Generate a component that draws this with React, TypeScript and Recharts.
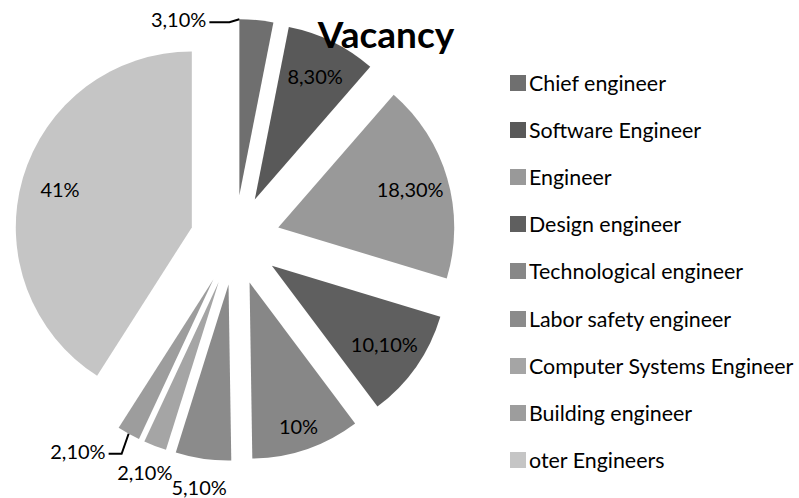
import React from "react";
import { PieChart, Pie, Cell, Sector, Legend } from "recharts";

const categories = [
  "Chief engineer",
  "Software Engineer",
  "Engineer",
  "Design engineer",
  "Technological engineer",
  "Labor safety engineer",
  "Computer Systems Engineer",
  "Building engineer",
  "oter Engineers",
];
const shares = [3.1, 8.3, 18.3, 10.1, 10, 5.1, 2.1, 2.1, 41];
const shareLabels = ["3,10%", "8,30%", "18,30%", "10,10%", "10%", "5,10%", "2,10%", "2,10%", "41%"];
const colors = ["#6f6f6f", "#595959", "#999999", "#5f5f5f", "#878787", "#8b8b8b", "#a5a5a5", "#9d9d9d", "#c5c5c5"];

const data = categories.map((name, i) => ({ name, value: shares[i], label: shareLabels[i] }));

const RAD = Math.PI / 180;
const EXPLODE = 45;
const FONT = "Lato, 'Open Sans', sans-serif";

// slices whose label sits outside with a leader line
const leaders: Record<string, { edge: "start" | "mid"; elbow: [number, number]; run: number }> = {
  "Chief engineer": { edge: "start", elbow: [-10, 3], run: 20 },
  "Building engineer": { edge: "mid", elbow: [-7, 20], run: 13 },
};

function shift(cx: number, cy: number, angle: number, r: number) {
  return { x: cx + r * Math.cos(-angle * RAD), y: cy + r * Math.sin(-angle * RAD) };
}

const ExplodedSector = (props: any) => {
  const c = shift(props.cx, props.cy, props.midAngle, EXPLODE);
  return <Sector {...props} cx={c.x} cy={c.y} />;
};

const renderLabel = (props: any) => {
  const { cx, cy, midAngle, outerRadius, startAngle, value, index } = props;
  const name = categories[index];
  const c = shift(cx, cy, midAngle, EXPLODE);
  const text = shareLabels[index];
  const lead = leaders[name];
  if (lead) {
    const from = shift(c.x, c.y, lead.edge === "start" ? startAngle : midAngle, outerRadius);
    const ex = from.x + lead.elbow[0];
    const ey = from.y + lead.elbow[1];
    const endX = ex - lead.run;
    return (
      <g>
        <polyline points={`${from.x},${from.y} ${ex},${ey} ${endX},${ey}`} fill="none" stroke="#000" strokeWidth={2} />
        <text x={endX - 3} y={ey - 3} textAnchor="end" dominantBaseline="central" fontSize={20} fontFamily={FONT} fill="#000">
          {text}
        </text>
      </g>
    );
  }
  const r = value >= 8 ? outerRadius * (value > 9.5 && value < 10.05 ? 0.86 : 0.78) : outerRadius * 1.16;
  const p = shift(c.x, c.y, midAngle, r);
  return (
    <text x={p.x} y={p.y} textAnchor="middle" dominantBaseline="central" fontSize={20} fontFamily={FONT} fill="#000">
      {text}
    </text>
  );
};

const LegendList = () => (
  <div style={{ fontFamily: FONT, fontSize: 21.4, color: "#000" }}>
    {categories.map((name, i) => (
      <div key={name} style={{ height: 47.2, display: "flex", alignItems: "center", whiteSpace: "nowrap" }}>
        <span style={{ width: 16, height: 16, background: colors[i], marginRight: 3, display: "inline-block", flex: "none" }} />
        <span>{name}</span>
      </div>
    ))}
  </div>
);

export default function App() {
  return (
    <div style={{ position: "absolute", left: 0, top: 0, width: 799, height: 498, background: "#fff" }}>
      <PieChart width={799} height={498} margin={{ top: 0, right: 0, bottom: 0, left: 0 }}>
        <Pie
          data={data}
          dataKey="value"
          nameKey="name"
          cx={235}
          cy={240}
          outerRadius={176}
          startAngle={90}
          endAngle={-270}
          stroke="none"
          shape={ExplodedSector}
          activeShape={ExplodedSector}
          inactiveShape={ExplodedSector}
          label={renderLabel}
          labelLine={false}
          isAnimationActive={false}
        >
          {data.map((d, i) => (
            <Cell key={d.name} fill={colors[i]} />
          ))}
        </Pie>
        <Legend
          layout="vertical"
          align="right"
          verticalAlign="top"
          content={<LegendList />}
          wrapperStyle={{ left: 510, top: 59, width: 289, right: "auto" }}
        />
      </PieChart>
      <svg width={799} height={498} style={{ position: "absolute", left: 0, top: 0, pointerEvents: "none" }}>
        <text x={386} y={48} textAnchor="middle" fontSize={37} fontWeight="bold" fontFamily={FONT} fill="#000">
          Vacancy
        </text>
      </svg>
    </div>
  );
}
